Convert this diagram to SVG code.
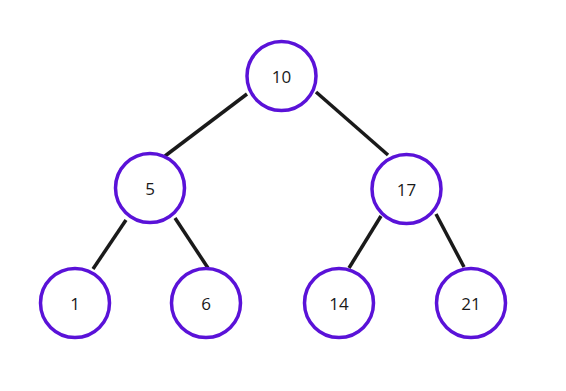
<svg xmlns="http://www.w3.org/2000/svg" width="566" height="391" viewBox="0 0 566 391">
<style>
.n{fill:#fff;stroke:#5a12d8;stroke-width:3.5}
.t{font-family:"Open Sans",sans-serif;font-size:17px;fill:#1a1a1a;text-anchor:middle;dominant-baseline:central}
.e{stroke:#1a1a1a;stroke-width:3.5;fill:none}
</style>
<rect width="566" height="391" fill="#fff"/>
<g id="edges">
<line class="e" x1="247" y1="94" x2="165" y2="156"/>
<line class="e" x1="316" y1="92" x2="388" y2="155"/>
<line class="e" x1="126" y1="220" x2="93" y2="269"/>
<line class="e" x1="175" y1="218" x2="208" y2="268"/>
<line class="e" x1="381" y1="216" x2="349" y2="268"/>
<line class="e" x1="436" y1="214" x2="464" y2="267"/>
</g>
<g id="n10"><circle class="n" cx="281.5" cy="76" r="34.5"/><text class="t" x="281.5" y="76">10</text></g>
<g id="n5"><circle class="n" cx="150" cy="188" r="34.5"/><text class="t" x="150" y="188">5</text></g>
<g id="n17"><circle class="n" cx="406.5" cy="189" r="34.5"/><text class="t" x="406.5" y="189">17</text></g>
<g id="n1"><circle class="n" cx="75" cy="303" r="34.5"/><text class="t" x="75" y="303">1</text></g>
<g id="n6"><circle class="n" cx="206" cy="303" r="34.5"/><text class="t" x="206" y="303">6</text></g>
<g id="n14"><circle class="n" cx="339" cy="303" r="34.5"/><text class="t" x="339" y="303">14</text></g>
<g id="n21"><circle class="n" cx="471" cy="303" r="34.5"/><text class="t" x="471" y="303">21</text></g>
</svg>
